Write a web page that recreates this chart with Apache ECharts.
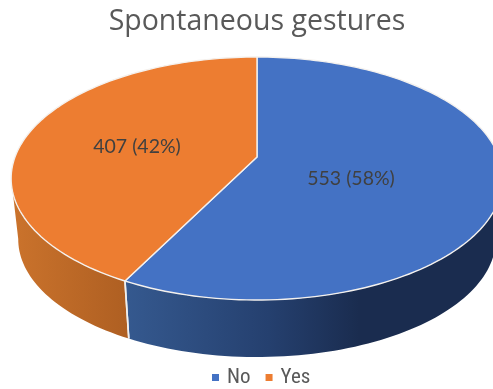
<!DOCTYPE html>
<html><head><meta charset="utf-8">
<style>html,body{margin:0;padding:0;background:#fff}#c{width:493px;height:389px}</style>
<script src="https://cdn.jsdelivr.net/npm/echarts@6/dist/echarts.min.js"></script>
</head><body><div id="c"></div>
<script>
const chartTitle = 'Spontaneous gestures';
const categories = ['No', 'Yes'];
const values = [553, 407];
const percents = [58, 42];
const colors = ['#4472C4', '#ED7D31'];

const total = values.reduce((a, b) => a + b, 0);
const P = 0.177;
const top3d = {cx: 257, cy: 157, a: 242, b: 117.7};
const bot3d = {cx: 257, cy: 218.5, a: 235, b: 114};
const wallRange = [100, 260];
const wallGrad = [
  [{o:0,c:'#1A2C4F'},{o:0.38,c:'#1A2C4F'},{o:0.62,c:'#25406F'},{o:1,c:'#35598F'}],
  [{o:0,c:'#AE5F22'},{o:1,c:'#CB732C'}]
];
const labelPos = [[351, 179], [137, 147]];

function proj(g, deg) {
  const t = deg * Math.PI / 180;
  const u = Math.sin(t), v = -Math.cos(t), d = 1 - P * v;
  return [g.cx + g.a * u / d, g.cy + g.b * v / d];
}
function arc(g, from, to) {
  const n = Math.max(2, Math.ceil(Math.abs(to - from) / 1.5)), pts = [];
  for (let i = 0; i <= n; i++) pts.push(proj(g, from + (to - from) * i / n));
  return pts;
}
function render(params, api) {
  const i = params.seriesIndex;
  let before = 0;
  for (let k = 0; k < i; k++) before += values[k];
  const s = before / total * 360, e = (before + api.value(0)) / total * 360;
  const ch = [];
  const ws = Math.max(s, wallRange[0]), we = Math.min(e, wallRange[1]);
  const fill = {
    type: 'linear', x: 1, y: 0, x2: 0, y2: 0, global: false,
    colorStops: wallGrad[i].map(c => ({offset: c.o, color: c.c}))
  };
  if (we > ws) {
    const pts = arc(top3d, ws, we).concat(arc(bot3d, ws, we).reverse());
    ch.push({type: 'polygon', z2: 1, shape: {points: pts}, style: {fill: fill}});
  }
  ch.push({type: 'polygon', z2: 3,
    shape: {points: [[top3d.cx, top3d.cy]].concat(arc(top3d, s, e))},
    style: {fill: colors[i], stroke: '#F4F1EE', lineWidth: 1.4, lineJoin: 'round'}});
  [s, e].forEach(a => {
    if (a > wallRange[0] && a < wallRange[1]) {
      const p = proj(top3d, a), q = proj(bot3d, a);
      ch.push({type: 'line', z2: 2, shape: {x1: p[0], y1: p[1], x2: q[0], y2: q[1]},
        style: {stroke: '#EFEFEF', lineWidth: 1.6}});
    }
  });
  ch.push({type: 'text', z2: 5, x: labelPos[i][0], y: labelPos[i][1],
    style: {text: api.value(0) + ' (' + percents[i] + '%)', fill: '#404040',
      font: '19.5px Lato, sans-serif', textAlign: 'center', textVerticalAlign: 'middle'}});
  return {type: 'group', children: ch};
}
const chart = echarts.init(document.getElementById('c'), null, {renderer: 'canvas'});
chart.setOption({
  animation: false,
  backgroundColor: '#fff',
  title: {text: chartTitle, left: 252, top: 2, textAlign: 'center',
    textStyle: {color: '#595959', fontWeight: 'normal', fontSize: 28.5, fontFamily: 'Open Sans'}},
  legend: {top: 362, left: 207, icon: 'rect', itemWidth: 7, itemHeight: 7, itemGap: 15,
    data: categories,
    textStyle: {color: '#595959', fontSize: 21, fontFamily: 'Roboto Condensed, Lato, sans-serif', padding: [0,0,0,3]}},
  series: categories.map((name, i) => ({
    type: 'custom', name: name, coordinateSystem: 'none', silent: true, clip: false,
    itemStyle: {color: colors[i]},
    data: [[values[i]]],
    renderItem: render
  }))
});
</script></body></html>
